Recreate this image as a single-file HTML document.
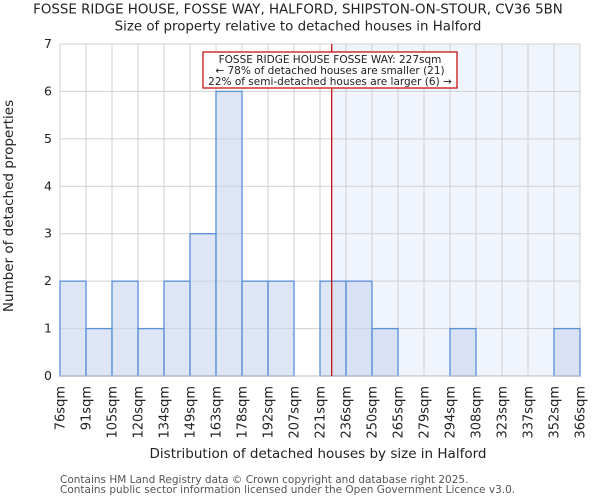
<!DOCTYPE html>
<html><head><meta charset="utf-8"><style>
body{margin:0;background:#fff;font-family:"DejaVu Sans","Liberation Sans",sans-serif}
svg text{font-family:"DejaVu Sans","Liberation Sans",sans-serif;fill:#222}
</style></head><body>
<svg id="c" width="600" height="500">
<text x="298" y="13.5" text-anchor="middle" font-size="13.4">FOSSE RIDGE HOUSE, FOSSE WAY, HALFORD, SHIPSTON-ON-STOUR, CV36 5BN</text>
<text x="298" y="30.5" text-anchor="middle" font-size="13.4">Size of property relative to detached houses in Halford</text>
<g id="g"></g>
<text x="318" y="458" text-anchor="middle" font-size="13.5">Distribution of detached houses by size in Halford</text>
<text transform="translate(13,206) rotate(-90)" text-anchor="middle" font-size="13.5">Number of detached properties</text>
<text x="60" y="483" font-size="10.5" style="fill:#555">Contains HM Land Registry data © Crown copyright and database right 2025.</text>
<text x="60" y="493" font-size="10.5" style="fill:#555">Contains public sector information licensed under the Open Government Licence v3.0.</text>
</svg>
<script>
const edgeLabels=["76sqm","91sqm","105sqm","120sqm","134sqm","149sqm","163sqm","178sqm","192sqm","207sqm","221sqm","236sqm","250sqm","265sqm","279sqm","294sqm","308sqm","323sqm","337sqm","352sqm","366sqm"];
const counts=[2,1,2,1,2,3,6,2,2,0,2,2,1,0,0,1,0,0,0,1];
const yTicks=[0,1,2,3,4,5,6,7];
const subjectIndex=10.45;
const X0=60,X1=580,Y0=376,Y1=44,YMAX=7;
const bw=(X1-X0)/counts.length;
const xs=i=>X0+i*bw, ys=v=>Y0-(Y0-Y1)*v/YMAX;
const g=document.getElementById('g');
const NS='http://www.w3.org/2000/svg';
function mk(t,a){const e=document.createElementNS(NS,t);for(const k in a)e.setAttribute(k,a[k]);g.appendChild(e);return e;}
const lx=xs(subjectIndex);
let e=mk('rect',{x:lx,y:Y1,width:X1-lx,height:Y0-Y1,fill:'#f0f4fd'});


yTicks.forEach(v=>{
 let l=mk('line',{x1:X0,x2:X1,y1:ys(v),y2:ys(v),stroke:'#d0d0d0'});
 
 
 let t=mk('text',{x:X0-8,y:ys(v)+4,'text-anchor':'end','font-size':'12.5'});t.textContent=v;
 
 
});
edgeLabels.forEach((s,i)=>{
 let l=mk('line',{x1:xs(i),x2:xs(i),y1:Y1,y2:Y0,stroke:'#d0d0d0'});
 
 
 let t=mk('text',{transform:`translate(${xs(i)+4.5},${Y0+10}) rotate(-90)`,'text-anchor':'end','font-size':'13'});t.textContent=s;
 
 
});
counts.forEach((v,i)=>{
 if(!v)return;
 let r=mk('rect',{x:xs(i),y:ys(v),width:bw,height:Y0-ys(v),fill:'rgba(200,214,238,0.6)',stroke:'#5b8fd6','stroke-width':1.3});
 
 
});
let ax=mk('line',{x1:X0,x2:X1,y1:Y0,y2:Y0,stroke:'#bbb'});


let rl=mk('line',{x1:lx,x2:lx,y1:Y1,y2:Y0,stroke:'#c00000','stroke-width':1.2});


let bx=mk('rect',{x:203,y:52,width:254,height:36,fill:'#fff',stroke:'#c00000','stroke-width':1.2});


["FOSSE RIDGE HOUSE FOSSE WAY: 227sqm","← 78% of detached houses are smaller (21)","22% of semi-detached houses are larger (6) →"].forEach((s,i)=>{
 let t=mk('text',{x:330,y:63+i*11,'text-anchor':'middle','font-size':'10.5'});t.textContent=s;
 
 
});
</script>
</body></html>
